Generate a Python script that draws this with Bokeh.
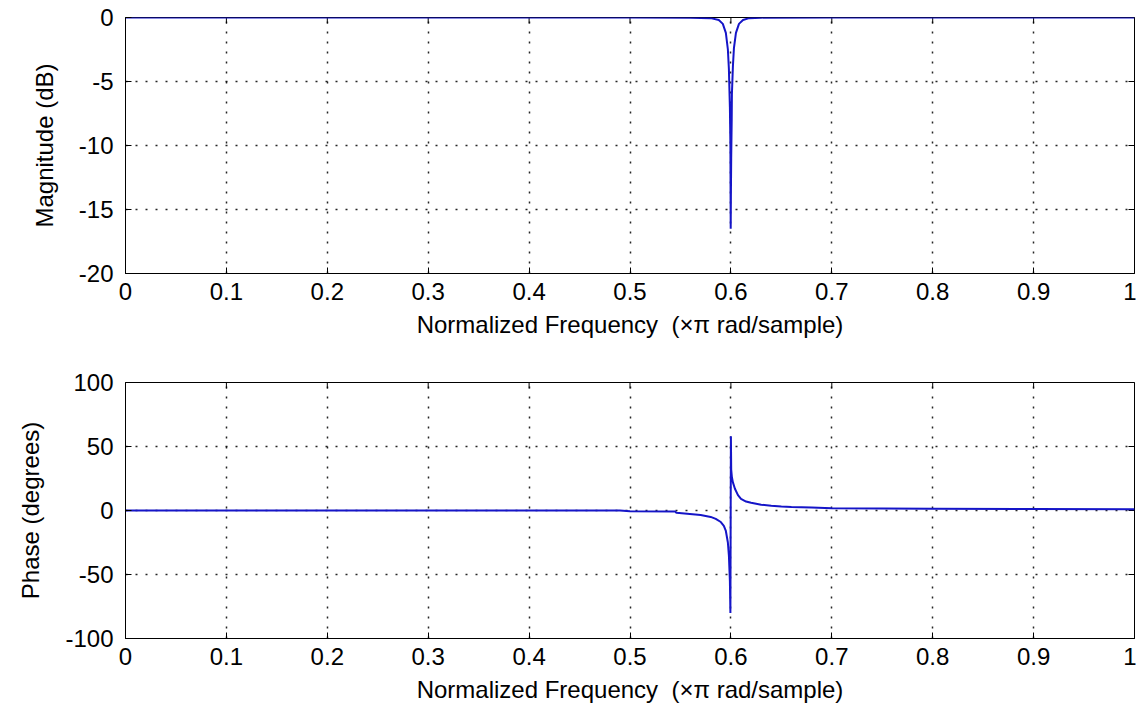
import math
from bokeh.plotting import figure
from bokeh.layouts import column
from bokeh.models import FixedTicker, Range1d
from bokeh.embed import file_html
from bokeh.resources import INLINE

# ---- data ----
mag_freq = [0.0, 0.50, 0.56, 0.58, 0.588, 0.592, 0.595, 0.597, 0.598, 0.599, 0.5995, 0.5998,
            0.6, 0.6003, 0.6008, 0.601, 0.602, 0.603, 0.605, 0.608, 0.612, 0.618, 0.63, 0.7, 1.0]
mag_db = [0.0, 0.0, -0.02, -0.05, -0.2, -0.5, -1.2, -2.5, -4.0, -7.0, -10.0, -16.5,
          -14.0, -11.0, -8.0, -6.0, -3.8, -2.4, -1.2, -0.5, -0.2, -0.05, -0.01, 0.0, 0.0]

ph_freq = [0.0, 0.49, 0.50, 0.545, 0.546, 0.57, 0.58, 0.585, 0.59, 0.593, 0.595, 0.597, 0.598,
           0.599, 0.5995, 0.6, 0.6003, 0.601, 0.602, 0.604, 0.607, 0.61, 0.615, 0.62, 0.63,
           0.64, 0.65, 0.66, 0.68, 0.70, 0.80, 0.90, 1.0]
ph_deg = [0.0, 0.0, -0.6, -0.8, -1.8, -3.5, -5.0, -6.5, -9.0, -12.0, -16.0, -25.0, -35.0,
          -55.0, -80.0, 58.0, 32.0, 26.0, 22.0, 17.0, 12.0, 9.0, 7.0, 6.0, 4.5,
          3.8, 3.2, 2.8, 2.3, 1.8, 1.4, 1.1, 0.9]

x_ticks = [0, 0.1, 0.2, 0.3, 0.4, 0.5, 0.6, 0.7, 0.8, 0.9, 1]
x_tick_labels = ["0", "0.1", "0.2", "0.3", "0.4", "0.5", "0.6", "0.7", "0.8", "0.9", "1"]
mag_ticks = [-20, -15, -10, -5, 0]
mag_tick_labels = ["-20", "-15", "-10", "-5", "0"]
ph_ticks = [-100, -50, 0, 50, 100]
ph_tick_labels = ["-100", "-50", "0", "50", "100"]

x_label = "Normalized Frequency\u00a0\u00a0(\u00d7\u03c0 rad/sample)"

FONT = "Liberation Sans"
FS = "24px"
LINE_COLOR = "#1515c8"


def style_axis(ax, ticks, labels):
    ax.ticker = FixedTicker(ticks=ticks)
    ax.major_label_overrides = {t: l for t, l in zip(ticks, labels)}
    ax.major_tick_in = 6
    ax.major_tick_out = 0
    ax.minor_tick_in = 0
    ax.minor_tick_out = 0
    ax.axis_line_color = "black"
    ax.major_tick_line_color = "black"
    ax.major_label_text_font = FONT
    ax.major_label_text_color = "black"
    ax.major_label_text_font_size = FS
    ax.axis_label_text_font = FONT
    ax.axis_label_text_font_style = "normal"
    ax.axis_label_text_color = "black"
    ax.axis_label_text_font_size = FS


def make_fig(height, top, bottom, y_range, y_ticks, y_labels, y_label, xs, ys):
    p = figure(width=1136, height=height, output_backend="svg", toolbar_location=None,
               x_range=Range1d(0, 1), y_range=Range1d(*y_range),
               min_border_left=125, min_border_right=2, min_border_top=top,
               min_border_bottom=bottom)
    p.background_fill_color = "white"
    p.border_fill_color = "white"
    p.outline_line_color = "black"
    p.outline_line_width = 1

    p.xaxis.axis_label = x_label
    p.yaxis.axis_label = y_label
    style_axis(p.xaxis[0], x_ticks, x_tick_labels)
    style_axis(p.yaxis[0], y_ticks, y_labels)
    p.xaxis.major_label_standoff = 9
    p.xaxis.axis_label_standoff = 8
    p.yaxis.major_label_standoff = 12
    p.yaxis.axis_label_standoff = 18

    for g in (p.xgrid[0], p.ygrid[0]):
        g.grid_line_color = "black"
        g.grid_line_dash = "2 8"
        g.grid_line_width = 1.5
        g.grid_line_alpha = 0.85
    p.xgrid.ticker = FixedTicker(ticks=x_ticks)
    p.ygrid.ticker = FixedTicker(ticks=y_ticks)

    # inward ticks on the top and right frame edges (box on)
    p.scatter(x=x_ticks, y=[y_range[1]] * len(x_ticks), marker="dash", angle=math.pi / 2,
              size=12, line_color="black", line_width=1)
    p.scatter(x=[1] * len(y_ticks), y=y_ticks, marker="dash", size=12,
              line_color="black", line_width=1)

    p.line(xs, ys, line_color=LINE_COLOR, line_width=2)
    return p


p1 = make_fig(345, 17, 72, (-20, 0), mag_ticks, mag_tick_labels, "Magnitude (dB)",
              mag_freq, mag_db)
p2 = make_fig(364, 37, 71, (-100, 100), ph_ticks, ph_tick_labels, "Phase (degrees)",
              ph_freq, ph_deg)

layout = column(p1, p2, spacing=0)
open("out.html", "w").write(file_html(layout, INLINE))
